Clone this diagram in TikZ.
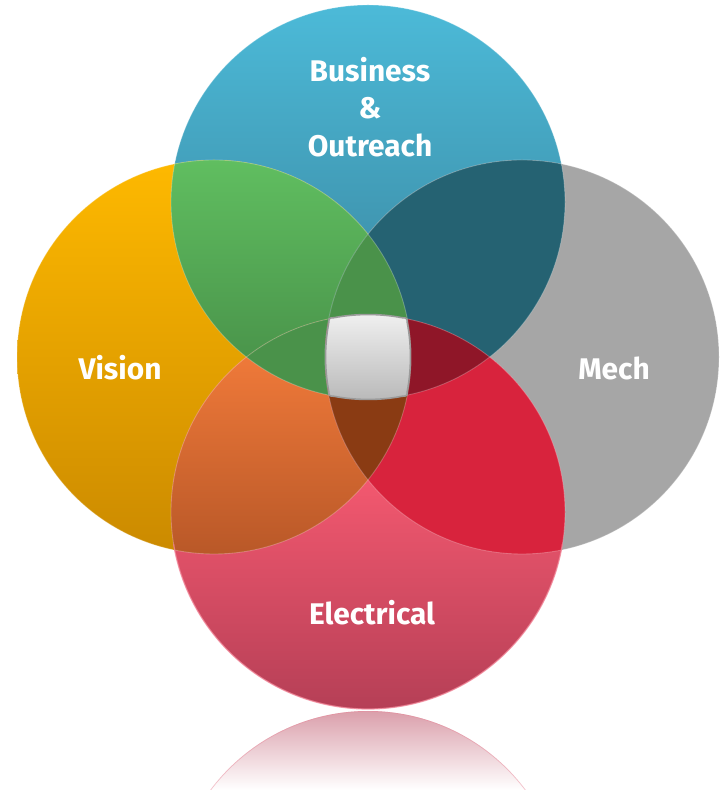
\documentclass[tikz,border=0pt]{standalone}
\usepackage{fontspec}
\setmainfont{Fira Sans}
\definecolor{topA}{HTML}{4CBAD8}
\definecolor{topB}{HTML}{377D95}
\definecolor{leftA}{HTML}{FEB900}
\definecolor{leftB}{HTML}{CB8A00}
\definecolor{mechgray}{HTML}{A6A6A6}
\definecolor{botA}{HTML}{F2586F}
\definecolor{botB}{HTML}{B53F56}
\definecolor{botedge}{HTML}{F07A8E}
\definecolor{grnA}{HTML}{60BE60}
\definecolor{grnB}{HTML}{468D47}
\definecolor{orgA}{HTML}{FA803D}
\definecolor{orgB}{HTML}{B95828}
\definecolor{tealdk}{HTML}{256272}
\definecolor{crim}{HTML}{D8233D}
\definecolor{grndk}{HTML}{4A924A}
\definecolor{reddk}{HTML}{8F1628}
\definecolor{browndk}{HTML}{8A3B13}
\definecolor{quadA}{HTML}{F0F0F0}
\definecolor{quadB}{HTML}{B9B9B9}
\definecolor{quadline}{HTML}{9B9B9B}
\definecolor{reflA}{HTML}{DA9EAA}
\definecolor{refledge}{HTML}{E8899A}
\begin{document}
\begin{tikzpicture}[x=0.02cm,y=0.02cm]
\tikzstyle{every node}=[text=white, align=center, font=\bfseries\fontsize{17}{21.5}\selectfont]
\tikzstyle{edge}=[white, opacity=0.25, line width=0.5pt]
\def\rr{197}
\useasboundingbox (0,0) rectangle (725,790);
\coordinate (ct) at (368,588);
\coordinate (cl) at (214,433);
\coordinate (cr) at (522,433);
\coordinate (cb) at (368,278);
\coordinate (cm) at (368,433);
\coordinate (cf) at (368,-118);
% reflection
\begin{scope}
\clip (cf) circle (\rr);
\shade[top color=reflA, bottom color=white] (150,0) rectangle (590,80);
\draw[refledge, opacity=0.5, line width=0.8pt] (cf) circle (\rr);
\end{scope}
% circles
\shade[top color=topA, bottom color=topB] (ct) circle (\rr);
\shade[top color=leftA, bottom color=leftB] (cl) circle (\rr);
\fill[mechgray] (cr) circle (\rr);
\begin{scope}
\clip (cb) circle (\rr);
\shade[top color=botA, bottom color=botB] (160,80) rectangle (580,308);
\fill[botA] (160,308) rectangle (580,480);
\end{scope}
% pairs
\begin{scope}
\clip (ct) circle (\rr); \clip (cl) circle (\rr);
\shade[top color=grnA, bottom color=grnB] (150,395) rectangle (420,630);
\end{scope}
\begin{scope}
\clip (ct) circle (\rr);
\fill[tealdk] (cr) circle (\rr);
\end{scope}
\begin{scope}
\clip (cl) circle (\rr); \clip (cb) circle (\rr);
\shade[top color=orgA, bottom color=orgB] (150,236) rectangle (420,475);
\end{scope}
\begin{scope}
\clip (cr) circle (\rr);
\fill[crim] (cb) circle (\rr);
\end{scope}
% triples
\begin{scope}
\clip (ct) circle (\rr); \clip (cl) circle (\rr);
\fill[grndk] (cr) circle (\rr);
\fill[grndk] (cb) circle (\rr);
\end{scope}
\begin{scope}
\clip (ct) circle (\rr); \clip (cr) circle (\rr);
\fill[reddk] (cb) circle (\rr);
\end{scope}
\begin{scope}
\clip (cl) circle (\rr); \clip (cr) circle (\rr);
\fill[browndk] (cb) circle (\rr);
\end{scope}
\foreach \c in {ct,cl,cr,cb}
  \draw[edge] (\c) circle (\rr);
\begin{scope}
\clip (0,0) rectangle (725,245);
\draw[botedge, opacity=0.7, line width=0.7pt] (cb) circle (\rr);
\end{scope}
% centre
\shade[top color=quadA, bottom color=quadB, draw=quadline, line width=0.9pt, shift={(cm)}]
  (-34,39.3) .. controls (-12,43.5) and (12,43.5) .. (34,39.3)
  .. controls (39,39) .. (39.3,34)
  .. controls (43.5,12) and (43.5,-12) .. (39.3,-34)
  .. controls (39,-39) .. (34,-39.3)
  .. controls (12,-43.5) and (-12,-43.5) .. (-34,-39.3)
  .. controls (-39,-39) .. (-39.3,-34)
  .. controls (-43.5,-12) and (-43.5,12) .. (-39.3,34)
  .. controls (-39,39) .. (-34,39.3) -- cycle;
% labels
\node (biz) at (370,683) {Business\\\&\\Outreach};
\node (vis) at (120,422) {Vision};
\node (mech) at (614,422) {Mech};
\node (elec) at (372,177) {Electrical};
\end{tikzpicture}
\end{document}
